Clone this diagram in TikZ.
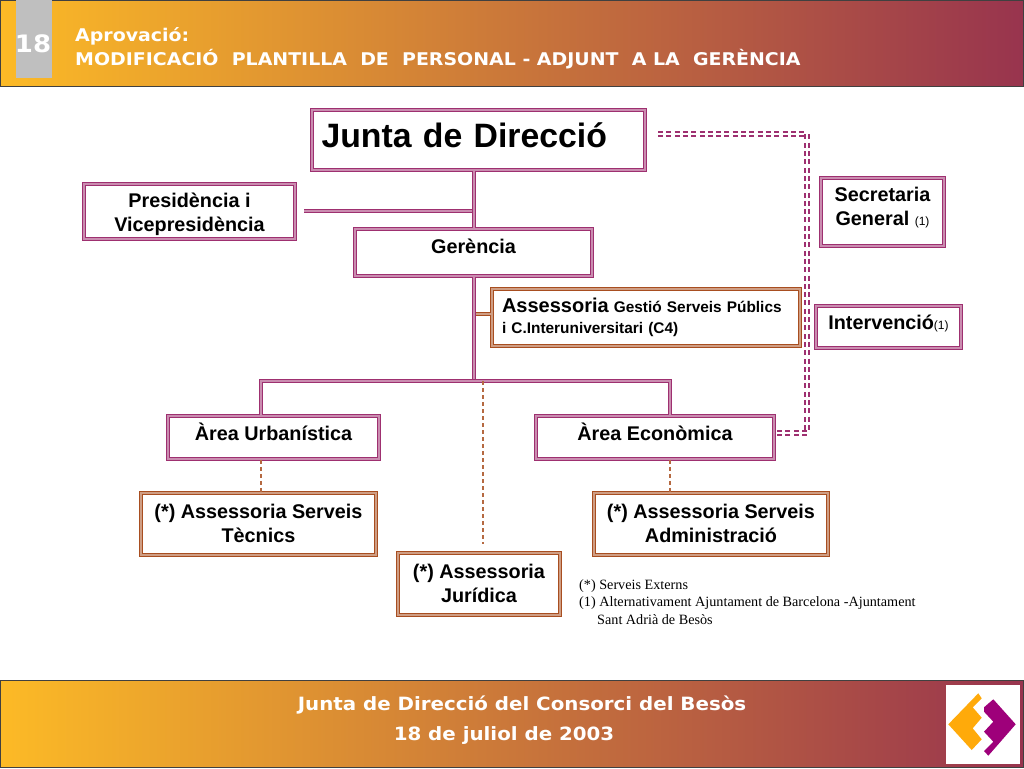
\documentclass[tikz,border=0pt]{standalone}
\usepackage{fontspec}
\setmainfont{Liberation Sans}
\newfontfamily\bandfont[FakeStretch=1.083]{DejaVu Sans}
\newfontfamily\notefont{Liberation Serif}
\definecolor{mauve}{RGB}{158,48,112}
\definecolor{rust}{RGB}{168,78,32}
\definecolor{bandl}{RGB}{252,186,38}
\definecolor{bandm}{RGB}{205,125,60}
\definecolor{bandr}{RGB}{152,52,78}
\definecolor{logoo}{RGB}{255,170,10}
\definecolor{logop}{RGB}{158,0,122}
\newcommand{\fsize}[1]{\fontsize{#1}{24}\selectfont}
\newcommand{\smallmark}{{\fontsize{12}{12}\selectfont\mdseries (1)}}
\tikzset{
    mbox/.style={draw=mauve, line width=1.5pt, double=mauve!55!white, double distance=1.3pt, inner sep=0pt, align=center, font=\fsize{19.8}\bfseries},
    rbox/.style={mbox, draw=rust, double=rust!55!white},
    mline/.style={draw=mauve, line width=1.5pt, double=mauve!55!white, double distance=1.3pt},
    rline/.style={draw=rust, line width=1.3pt, double=rust!55!white, double distance=1.3pt},
    mdash/.style={mline, line width=1.8pt, double=white, double distance=1.5pt, dash pattern=on 5pt off 3.3pt},
    rdash/.style={draw=rust!85!white, line width=1.1pt, dash pattern=on 4pt off 3pt},
    band/.style={draw=black!75, line width=1pt, left color=bandl, middle color=bandm, right color=bandr, inner sep=0pt},
    bandtxt/.style={text=white, inner sep=0pt, font=\bandfont\fontsize{17.5}{20}\selectfont\bfseries}
}
\begin{document}
\begin{tikzpicture}[x=1pt, y=-1pt]
    \useasboundingbox[fill=white] (0,0) rectangle (1024,768);

    % bands
    \node[band, minimum width=1023pt, minimum height=86pt] (header) at (512,43.5) {};
    \node[band, minimum width=1023pt, minimum height=87pt] (footer) at (512,723.5) {};
    \node[fill=black!25, minimum width=36pt, minimum height=78pt, inner sep=0pt] (num) at (34,39) {};
    \node[bandtxt, font=\bandfont\fontsize{24}{24}\selectfont\bfseries] (numtxt) at (33,44) {18};
    \node[bandtxt, anchor=west] (approv) at (75,36) {Aprovació:};
    \node[bandtxt, anchor=west] (modif) at (75,59) {MODIFICACIÓ\ \ PLANTILLA\ \ DE\ \ PERSONAL - ADJUNT\ \ A LA\ \ GERÈNCIA};
    \node[bandtxt, font=\bandfont\fontsize{18.3}{20}\selectfont\bfseries] (meeting) at (522,705) {Junta de Direcció del Consorci del Besòs};
    \node[bandtxt, font=\bandfont\fontsize{18.3}{20}\selectfont\bfseries] (date) at (504,736) {18 de juliol de 2003};

    % logo
    \node[fill=white, minimum width=74pt, minimum height=79pt, inner sep=0pt] (logo) at (983,724.5) {};
    \fill[logoo] (948.3,724.3) -- (978.3,693.3) -- (981.7,698.3) -- (972.7,707.3) -- (981.7,717.7) -- (972.7,728.3) -- (981.7,739.3) -- (971.7,750) -- cycle;
    \fill[logop] (984,707.3) -- (993.3,699.3) -- (1015.7,724.3) -- (988.3,755.7) -- (984,751) -- (993.3,741.7) -- (984,731.7) -- (993.3,721.7) -- (984,711.7) -- cycle;

    % boxes
    \node[mbox, minimum width=333pt, minimum height=60pt, text width=314pt, align=left, text depth=10pt, font=\fontsize{33.8}{36}\selectfont\bfseries] (junta) at (478.5,140) {Junta de Direcció};
    \node[mbox, minimum width=211pt, minimum height=55pt] (presi) at (189.5,211.5) {\rule{0pt}{20pt}Presidència i\\Vicepresidència};
    \node[mbox, minimum width=237pt, minimum height=47pt, text depth=12pt] (geren) at (473.5,252.5) {Gerència};
    \node[rbox, minimum width=308pt, minimum height=57pt, text width=288pt, align=left, font=\fontsize{15.4}{21}\selectfont\bfseries] (assess) at (646,317.5) {{\fontsize{20}{21}\selectfont Assessoria} Gestió Serveis Públics\\i C.Interuniversitari (C4)};
    \node[mbox, minimum width=123pt, minimum height=68pt, text depth=12pt] (secre) at (882.5,212) {Secretaria\\General \smallmark};
    \node[mbox, minimum width=145pt, minimum height=42pt, text depth=9pt] (inter) at (888.5,327) {Intervenció\smallmark};
    \node[mbox, minimum width=211pt, minimum height=43pt, text depth=11pt] (urban) at (273.5,437.5) {Àrea Urbanística};
    \node[mbox, minimum width=238pt, minimum height=43pt, text depth=11pt] (econ) at (655,437.5) {Àrea Econòmica};
    \node[rbox, minimum width=235pt, minimum height=62pt, text depth=2pt] (tecn) at (258.5,524) {(*) Assessoria Serveis\\Tècnics};
    \node[rbox, minimum width=234pt, minimum height=62pt, text depth=2pt] (admin) at (711,524) {(*) Assessoria Serveis\\Administració};
    \node[rbox, minimum width=162pt, minimum height=62pt, text depth=2pt] (jurid) at (479,584) {(*) Assessoria\\Jurídica};

    \coordinate (presiend) at (304,211);
    \coordinate (busm) at (474,381); \coordinate (busl) at (261,381); \coordinate (busr) at (670,381);
    \coordinate (dashl) at (483,381); \coordinate (dashe) at (483,544);
    \coordinate (secs) at (658,134); \coordinate (secc) at (807,134); \coordinate (secb) at (807,433);

    % connectors
    \draw[mline] (presiend) -- (presiend -| busm);
    \draw[mline] (junta.south -| busm) -- (geren.north -| busm);
    \draw[rline] (assess.west |- 0,314) -- (busm |- 0,314);
    \draw[mline] (geren.south -| busm) -- (busm);
    \draw[mline] (busl |- urban.north) -- (busl) -- (busr) -- (busr |- econ.north);
    \draw[rdash] (dashl) -- (dashe);
    \draw[rdash] (urban.south -| busl) -- (tecn.north -| busl);
    \draw[rdash] (econ.south -| busr) -- (admin.north -| busr);
    \draw[mdash] (secs) -- (secc) -- (secb) -- (econ.east |- secb);

    % note
    \node[anchor=north west, align=left, inner sep=0pt, font=\notefont\fontsize{14.2}{14.2}\selectfont] (note) at (579,579) {(*) Serveis Externs\\[3pt](1) Alternativament Ajuntament de Barcelona -Ajuntament\\[3.8pt]\hspace*{18pt}Sant Adrià de Besòs};
\end{tikzpicture}
\end{document}
